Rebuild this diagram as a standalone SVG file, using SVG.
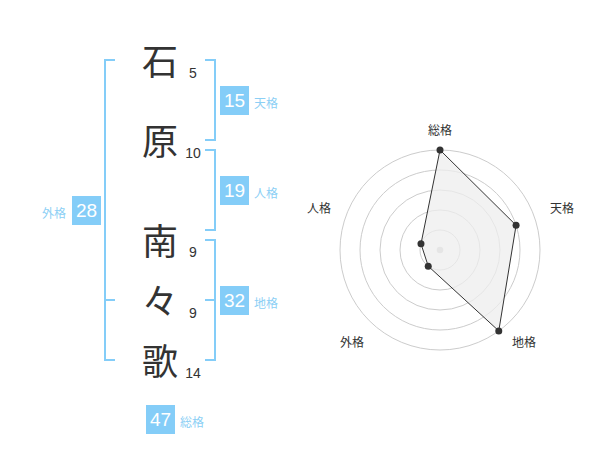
<svg xmlns="http://www.w3.org/2000/svg" width="600" height="470" viewBox="0 0 600 470">
<style>
.ch{font-family:"Noto Sans CJK JP","Noto Sans CJK SC",sans-serif;font-size:36px;fill:#333;text-anchor:middle}
.st{font-family:"Liberation Sans",Arial,sans-serif;font-size:14px;fill:#333;text-anchor:middle}
.br{fill:none;stroke:#84cdf8;stroke-width:2}
.bx{fill:#84cdf8}
.bn{font-family:"Liberation Sans",Arial,sans-serif;font-size:19px;fill:#fff;text-anchor:middle}
.lb{font-family:"Noto Sans CJK JP","Noto Sans CJK SC",sans-serif;font-size:12px;fill:#8ccff5}
.rl{font-family:"Noto Sans CJK JP","Noto Sans CJK SC",sans-serif;font-size:12px;fill:#333;text-anchor:middle}
.ring{fill:none;stroke:#ccc;stroke-width:1}
.pt{fill:#333}
</style>
<rect width="600" height="470" fill="#fff"/>
<g id="chars">
<text class="ch" x="160" y="75">石</text>
<text class="ch" x="160" y="155">原</text>
<text class="ch" x="160" y="255">南</text>
<text class="ch" x="160" y="315">々</text>
<text class="ch" x="160" y="375">歌</text>
</g>
<g id="strokes">
<text class="st" x="193" y="78">5</text>
<text class="st" x="193" y="158">10</text>
<text class="st" x="193" y="257">9</text>
<text class="st" x="193" y="318">9</text>
<text class="st" x="193" y="378">14</text>
</g>
<g id="connectors">
<path class="br" d="M115,60 H105 V360 H115 M105,300 H115"/>
<path class="br" d="M205,60 H215 V140 H205"/>
<path class="br" d="M205,150 H215 V230 H205"/>
<path class="br" d="M205,240 H215 V360 H205 M205,300 H215"/>
</g>
<g id="tenkaku">
<rect class="bx" x="220" y="86" width="29" height="29"/>
<text class="bn" x="234.5" y="107">15</text>
<text class="lb" x="254" y="108">天格</text>
</g>
<g id="jinkaku">
<rect class="bx" x="220" y="176" width="29" height="29"/>
<text class="bn" x="234.5" y="197">19</text>
<text class="lb" x="254" y="198">人格</text>
</g>
<g id="chikaku">
<rect class="bx" x="220" y="286" width="29" height="29"/>
<text class="bn" x="234.5" y="307">32</text>
<text class="lb" x="254" y="308">地格</text>
</g>
<g id="gaikaku">
<rect class="bx" x="72" y="196" width="29" height="29"/>
<text class="bn" x="86.5" y="217">28</text>
<text class="lb" x="66" y="218" text-anchor="end">外格</text>
</g>
<g id="soukaku">
<rect class="bx" x="146" y="405" width="29" height="29"/>
<text class="bn" x="160.5" y="426">47</text>
<text class="lb" x="180" y="427">総格</text>
</g>
<g id="radar">
<circle class="ring" cx="440" cy="250" r="20"/>
<circle class="ring" cx="440" cy="250" r="40"/>
<circle class="ring" cx="440" cy="250" r="60"/>
<circle class="ring" cx="440" cy="250" r="80"/>
<circle class="ring" cx="440" cy="250" r="100"/>
<circle cx="440" cy="250" r="3.3" fill="#ccc"/>
<polygon points="440,150 516.08,225.28 498.78,330.9 428.24,266.18 420.98,243.82" fill="#eee" fill-opacity="0.75" stroke="#333" stroke-width="1"/>
<circle class="pt" cx="440" cy="150" r="3.5"/>
<circle class="pt" cx="516.08" cy="225.28" r="3.5"/>
<circle class="pt" cx="498.78" cy="330.9" r="3.5"/>
<circle class="pt" cx="428.24" cy="266.18" r="3.5"/>
<circle class="pt" cx="420.98" cy="243.82" r="3.5"/>
<text class="rl" x="440" y="135">総格</text>
<text class="rl" x="562" y="213">天格</text>
<text class="rl" x="524" y="347">地格</text>
<text class="rl" x="352" y="347">外格</text>
<text class="rl" x="319" y="213">人格</text>
</g>
</svg>
